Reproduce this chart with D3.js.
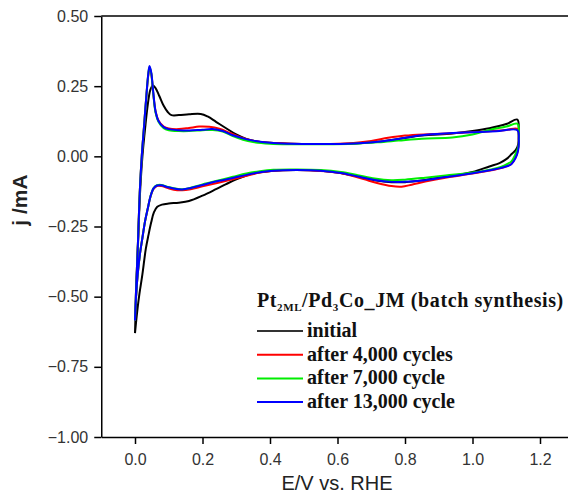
<!DOCTYPE html>
<html lang="en">
<head>
  <meta charset="utf-8">
  <script src="https://d3js.org/d3.v7.min.js"></script>
  <title>CV Pt2ML/Pd3Co_JM</title>
  <style>
    body { margin: 0; background: #fff; }
    .axis path, .axis line { stroke: #000; stroke-width: 1.5px; }
    .axis text { font-family: "Liberation Sans", Arial, sans-serif; font-size: 16px; fill: #333; }
    .legend text { font-family: "Liberation Serif", "Times New Roman", serif; font-weight: bold; font-size: 20px; fill: #111; }
  </style>
</head>
<body>
<svg id="cv" width="568" height="495"></svg>
<script>
// legend labels + colours
var seriesNames = ["initial", "after 4,000 cycles", "after 7,000 cycle", "after 13,000 cycle"];
var seriesColors = ["#000000", "#ff0000", "#00ee00", "#0000ff"];

var xTicks = [0.0, 0.2, 0.4, 0.6, 0.8, 1.0, 1.2];
var yTicks = [-1.0, -0.75, -0.5, -0.25, 0.0, 0.25, 0.5];

// [E (V vs RHE), j (mA)] -- anodic sweep then cathodic sweep
var initialCV = [
  [0.000,-0.63],[0.004,-0.47],[0.009,-0.31],[0.015,-0.13],[0.022,0.00],[0.030,0.10],[0.038,0.185],
  [0.045,0.235],[0.052,0.252],[0.060,0.245],[0.072,0.215],[0.085,0.180],[0.097,0.158],[0.108,0.147],
  [0.13,0.147],[0.16,0.150],[0.195,0.151],[0.215,0.142],[0.24,0.123],[0.27,0.100],[0.30,0.078],
  [0.33,0.062],[0.36,0.053],[0.40,0.048],[0.46,0.045],[0.55,0.044],[0.65,0.046],[0.72,0.052],
  [0.78,0.062],[0.85,0.074],[0.94,0.081],[1.00,0.090],[1.05,0.100],[1.10,0.115],[1.133,0.131],
  [1.137,0.09],[1.136,0.045],[1.128,0.022],[1.116,0.008],[1.10,-0.010],[1.08,-0.024],[1.05,-0.036],
  [1.00,-0.056],[0.92,-0.073],[0.86,-0.084],[0.80,-0.092],[0.76,-0.092],[0.71,-0.085],[0.66,-0.072],
  [0.61,-0.059],[0.55,-0.051],[0.48,-0.049],[0.41,-0.051],[0.37,-0.057],[0.33,-0.068],[0.30,-0.082],
  [0.27,-0.099],[0.24,-0.117],[0.20,-0.140],[0.16,-0.159],[0.13,-0.165],[0.10,-0.168],[0.08,-0.172],
  [0.066,-0.180],[0.056,-0.200],[0.048,-0.235],[0.040,-0.28],[0.032,-0.33],[0.022,-0.42],[0.012,-0.50],
  [0.005,-0.57],[0.000,-0.63]
];

var cv4000 = [
  [0.000,-0.585],[0.004,-0.45],[0.009,-0.30],[0.014,-0.13],[0.020,0.00],[0.027,0.11],[0.034,0.22],
  [0.039,0.285],[0.043,0.315],[0.048,0.295],[0.054,0.225],[0.061,0.16],[0.070,0.127],[0.085,0.106],
  [0.10,0.099],[0.13,0.097],[0.16,0.101],[0.19,0.106],[0.22,0.105],[0.25,0.098],[0.28,0.084],
  [0.31,0.069],[0.34,0.058],[0.38,0.050],[0.46,0.045],[0.55,0.044],[0.64,0.047],[0.70,0.055],
  [0.75,0.066],[0.80,0.074],[0.87,0.079],[0.95,0.083],[1.03,0.088],[1.10,0.094],[1.133,0.098],
  [1.137,0.065],[1.135,0.025],[1.128,-0.003],[1.115,-0.027],[1.095,-0.038],[1.07,-0.046],[1.00,-0.061],
  [0.92,-0.076],[0.86,-0.090],[0.82,-0.101],[0.79,-0.108],[0.76,-0.106],[0.72,-0.096],[0.68,-0.082],
  [0.64,-0.068],[0.60,-0.058],[0.55,-0.052],[0.48,-0.049],[0.41,-0.051],[0.37,-0.058],[0.33,-0.069],
  [0.29,-0.082],[0.25,-0.093],[0.20,-0.107],[0.165,-0.117],[0.14,-0.121],[0.115,-0.119],[0.095,-0.112],
  [0.078,-0.106],[0.065,-0.106],[0.055,-0.116],[0.046,-0.143],[0.038,-0.186],[0.030,-0.23],
  [0.022,-0.29],[0.015,-0.345],[0.008,-0.42],[0.003,-0.50],[0.000,-0.585]
];

var cv7000 = [
  [0.000,-0.585],[0.004,-0.45],[0.009,-0.30],[0.014,-0.13],[0.020,0.00],[0.027,0.11],[0.034,0.22],
  [0.039,0.288],[0.043,0.318],[0.048,0.297],[0.054,0.225],[0.061,0.155],[0.070,0.122],[0.085,0.100],
  [0.10,0.093],[0.13,0.090],[0.16,0.090],[0.20,0.093],[0.23,0.094],[0.26,0.088],[0.29,0.072],
  [0.32,0.059],[0.35,0.051],[0.40,0.045],[0.46,0.043],[0.55,0.043],[0.65,0.045],[0.72,0.050],
  [0.78,0.056],[0.85,0.063],[0.94,0.067],[1.00,0.078],[1.05,0.094],[1.10,0.106],[1.133,0.116],
  [1.137,0.075],[1.136,0.035],[1.128,0.010],[1.115,-0.018],[1.095,-0.032],[1.07,-0.042],[1.00,-0.058],
  [0.92,-0.068],[0.86,-0.076],[0.80,-0.083],[0.76,-0.085],[0.71,-0.079],[0.66,-0.067],[0.61,-0.056],
  [0.55,-0.049],[0.48,-0.047],[0.41,-0.048],[0.37,-0.053],[0.33,-0.061],[0.29,-0.073],[0.25,-0.085],
  [0.20,-0.100],[0.165,-0.112],[0.14,-0.117],[0.115,-0.114],[0.095,-0.108],[0.078,-0.102],
  [0.065,-0.103],[0.055,-0.113],[0.046,-0.142],[0.038,-0.185],[0.030,-0.23],[0.022,-0.29],
  [0.015,-0.345],[0.008,-0.42],[0.003,-0.50],[0.000,-0.585]
];

var cv13000 = [
  [0.000,-0.585],[0.004,-0.45],[0.009,-0.30],[0.014,-0.13],[0.020,0.00],[0.027,0.11],[0.034,0.22],
  [0.039,0.29],[0.043,0.322],[0.048,0.30],[0.054,0.23],[0.061,0.16],[0.070,0.125],[0.085,0.104],
  [0.10,0.097],[0.13,0.093],[0.16,0.092],[0.20,0.095],[0.23,0.097],[0.26,0.090],[0.29,0.075],
  [0.32,0.064],[0.35,0.056],[0.40,0.048],[0.46,0.045],[0.55,0.044],[0.65,0.046],[0.72,0.052],
  [0.78,0.062],[0.85,0.075],[0.93,0.082],[1.00,0.086],[1.07,0.089],[1.133,0.093],
  [1.137,0.06],[1.135,0.02],[1.128,-0.005],[1.115,-0.028],[1.095,-0.038],[1.07,-0.045],[1.00,-0.060],
  [0.92,-0.074],[0.86,-0.085],[0.80,-0.091],[0.76,-0.091],[0.71,-0.084],[0.66,-0.072],[0.61,-0.059],
  [0.55,-0.051],[0.48,-0.049],[0.41,-0.051],[0.37,-0.057],[0.33,-0.066],[0.29,-0.077],[0.25,-0.087],
  [0.20,-0.102],[0.165,-0.113],[0.14,-0.118],[0.115,-0.115],[0.095,-0.109],[0.078,-0.103],
  [0.065,-0.104],[0.055,-0.114],[0.046,-0.142],[0.038,-0.185],[0.030,-0.23],[0.022,-0.29],
  [0.015,-0.345],[0.008,-0.42],[0.003,-0.50],[0.000,-0.585]
];

var allSeries = [initialCV, cv4000, cv7000, cv13000];

var svg = d3.select("#cv");

var xscale = d3.scaleLinear().domain([-0.1, 1.3]).range([101.25, 573.75]);
var yscale = d3.scaleLinear().domain([-1.0, 0.5]).range([437, 16]);

// frame top edge (runs off the right of the picture)
svg.append("line")
  .attr("x1", xscale(-0.1)).attr("x2", 568)
  .attr("y1", yscale(0.5)).attr("y2", yscale(0.5))
  .attr("stroke", "#000").attr("stroke-width", 1.5);

svg.append("g")
  .attr("class", "axis")
  .attr("transform", "translate(0," + yscale(-1.0) + ")")
  .call(d3.axisBottom(xscale).tickValues(xTicks).tickFormat(d3.format(".1f"))
    .tickSizeInner(7).tickSizeOuter(0).tickPadding(10));

svg.append("g")
  .attr("class", "axis")
  .attr("transform", "translate(" + xscale(-0.1) + ",0)")
  .call(d3.axisLeft(yscale).tickValues(yTicks).tickFormat(d3.format(".2f"))
    .tickSizeInner(7).tickSizeOuter(0).tickPadding(6));

var line = d3.line()
  .x(function(d) { return xscale(d[0]); })
  .y(function(d) { return yscale(d[1]); })
  .curve(d3.curveCatmullRom.alpha(0.5));

svg.append("g").selectAll("path")
  .data(allSeries)
  .enter().append("path")
    .attr("d", line)
    .attr("fill", "none")
    .attr("stroke", function(d, i) { return seriesColors[i]; })
    .attr("stroke-width", 2)
    .attr("stroke-linejoin", "round");

// axis titles
svg.append("text")
  .attr("transform", "translate(27,200) rotate(-90)")
  .attr("text-anchor", "middle")
  .style("font-family", "'Liberation Sans', Arial, sans-serif")
  .style("font-size", "21px")
  .style("font-weight", "bold")
  .attr("fill", "#222")
  .text("j /mA");

svg.append("text")
  .attr("x", 337).attr("y", 490)
  .attr("text-anchor", "middle")
  .style("font-family", "'Liberation Sans', Arial, sans-serif")
  .style("font-size", "20px")
  .attr("fill", "#222")
  .text("E/V vs. RHE");

// legend
var legend = svg.append("g").attr("class", "legend");

var title = legend.append("text").attr("x", 257).attr("y", 307).style("letter-spacing", "0.6px");
title.append("tspan").text("Pt");
title.append("tspan").attr("dy", 4).style("font-size", "11px").text("2ML");
title.append("tspan").attr("dy", -4).text("/Pd");
title.append("tspan").attr("dy", 4).style("font-size", "11px").text("3");
title.append("tspan").attr("dy", -4).text("Co_JM (batch synthesis)");

var rows = legend.selectAll("g.row")
  .data(seriesNames)
  .enter().append("g")
    .attr("class", "row")
    .attr("transform", function(d, i) { return "translate(0," + (337 + i * 23.7) + ")"; });

rows.append("line")
  .attr("x1", 257).attr("x2", 303)
  .attr("y1", -6).attr("y2", -6)
  .attr("stroke", function(d, i) { return i === 0 ? "#333" : seriesColors[i]; })
  .attr("stroke-width", 2);

rows.append("text")
  .attr("x", 307).attr("y", 0)
  .text(function(d) { return d; });
</script>
</body>
</html>
